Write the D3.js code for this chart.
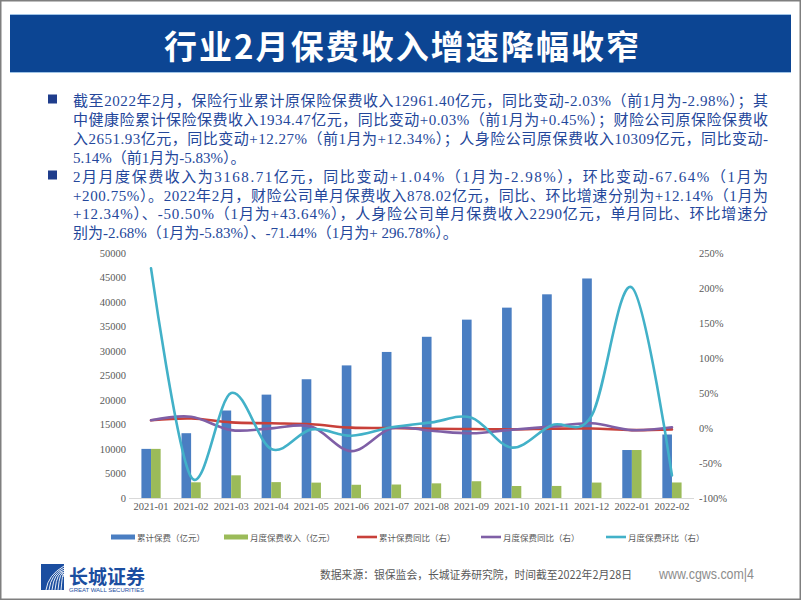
<!DOCTYPE html>
<html><head><meta charset="utf-8">
<script src="https://cdn.jsdelivr.net/npm/d3@7/dist/d3.min.js"></script>
<style>body{margin:0;background:#fff;}svg{display:block;}</style>
</head><body>
<svg id="c" width="802" height="602"></svg>
<script>
const categories = ['2021-01','2021-02','2021-03','2021-04','2021-05','2021-06','2021-07','2021-08','2021-09','2021-10','2021-11','2021-12','2022-01','2022-02'];
const cumPremium = [10024, 13223, 17856, 21096, 24235, 27061, 29806, 32900, 36400, 38850, 41568, 44800, 9792, 12961];
const monthlyPremium = [10024, 3200, 4630, 3240, 3140, 2700, 2750, 2990, 3420, 2450, 2460, 3150, 9792, 3169];
const cumYoY = [11, 13.5, 8, 6.7, 5.3, 0.5, 0, -1, -1.5, -2, -1, -0.8, -2.98, -2.03];
const monthlyYoY = [11, 16, -3, -0.5, 2, -33, -0.5, -4, -7.6, -2.5, 2, 6.7, -2.98, 1.04];
const monthlyMoM = [228, -70, 50, -30, -2, -11, 1, 8, 14.5, -28, 4, 18, 200.75, -67.64];
const leftTicks = [0,5000,10000,15000,20000,25000,30000,35000,40000,45000,50000];
const rightTicks = [-100,-50,0,50,100,150,200,250];
const seriesNames = ['累计保费（亿元）','月度保费收入（亿元）','累计保费同比（右）','月度保费同比（右）','月度保费环比（右）'];
const titleText = '行业2月保费收入增速降幅收窄';
const para1 = [
 '截至2022年2月，保险行业累计原保险保费收入12961.40亿元，同比变动-2.03%（前1月为-2.98%）；其',
 '中健康险累计保险保费收入1934.47亿元，同比变动+0.03%（前1月为+0.45%）；财险公司原保险保费收',
 '入2651.93亿元，同比变动+12.27%（前1月为+12.34%）；人身险公司原保费收入10309亿元，同比变动-',
 '5.14%（前1月为-5.83%）。'];
const para2 = [
 '2月月度保费收入为3168.71亿元，同比变动+1.04%（1月为-2.98%），环比变动-67.64%（1月为',
 '+200.75%）。2022年2月，财险公司单月保费收入878.02亿元，同比、环比增速分别为+12.14%（1月为',
 '+12.34%）、-50.50%（1月为+43.64%），人身险公司单月保费收入2290亿元，单月同比、环比增速分',
 '别为-2.68%（1月为-5.83%）、-71.44%（1月为+ 296.78%）。'];
const sourceText = '数据来源：银保监会，长城证券研究院，时间截至2022年2月28日';
const siteText = 'www.cgws.com|4';

const svg = d3.select('#c');
const serif = '"Liberation Serif","Times New Roman","Noto Sans CJK SC",serif';
const cjk = '"Noto Sans CJK SC","Liberation Serif",sans-serif';

// frame
svg.append('rect').attr('x',0.75).attr('y',0.75).attr('width',799.5).attr('height',598.5)
  .attr('fill','none').attr('stroke','#7f7f7f').attr('stroke-width',1.5);

// title bar
svg.append('rect').attr('x',10).attr('y',14).attr('width',781).attr('height',58).attr('fill','#0c4593');
svg.append('line').attr('x1',10).attr('x2',791).attr('y1',14.5).attr('y2',14.5).attr('stroke','#9fc3e6').attr('stroke-width',1);
svg.append('line').attr('x1',10).attr('x2',791).attr('y1',72.5).attr('y2',72.5).attr('stroke','#9fc3e6').attr('stroke-width',1);
svg.append('text').attr('x',164).attr('y',45).attr('dominant-baseline','central')
  .attr('textLength',475).attr('lengthAdjust','spacing')
  .style('font-family','"Noto Sans CJK SC","Liberation Serif",serif').style('font-weight','bold')
  .style('font-size','33px').attr('fill','#fff').text(titleText);

// paragraphs
const textColor = '#24479b';
const lineY1 = [100.5, 119.5, 138.5, 157.5];
const lineY2 = [176.5, 195.5, 214, 232.5];
function para(lines, ys){
  lines.forEach((t,i)=>{
    const el = svg.append('text').attr('x',73).attr('y',ys[i]).attr('dominant-baseline','central')
      .style('font-family',serif).style('font-size','15px').attr('fill',textColor).text(t);
    if(i < lines.length-1) el.attr('textLength',695).attr('lengthAdjust','spacing');
  });
}
para(para1, lineY1); para(para2, lineY2);
[99,175].forEach(cy=>{
  svg.append('rect').attr('x',48).attr('y',cy-4.5).attr('width',9).attr('height',9).attr('fill','#1f3d8c');
});

// chart
const x = d3.scaleBand().domain(categories).range([131,692]).paddingInner(0.52).paddingOuter(0.26);
const x1 = d3.scaleBand().domain(['cum','mon']).range([0, x.bandwidth()]);
const yL = d3.scaleLinear().domain([0,50000]).range([498,253]);
const yR = d3.scaleLinear().domain([-100,250]).range([498,253]);
const colors = {cum:'#4a7ec2', mon:'#9bbb59', cumYoY:'#c8403a', monYoY:'#7f5fa6', mom:'#42b1c8'};

// baseline
svg.append('line').attr('x1',129).attr('x2',694).attr('y1',498.5).attr('y2',498.5).attr('stroke','#d9d9d9');

// bars
const barData = categories.map((c,i)=>({c, cum:cumPremium[i], mon:monthlyPremium[i]}));
['cum','mon'].forEach(k=>{
  svg.append('g').selectAll('rect').data(barData).join('rect')
    .attr('x',d=>x(d.c)+x1(k)).attr('width',x1.bandwidth())
    .attr('y',d=>yL(d[k])).attr('height',d=>yL(0)-yL(d[k]))
    .attr('fill',colors[k]);
});

// lines
const lineGen = d3.line().x((d,i)=>x(categories[i])+x.bandwidth()/2).y(d=>yR(d)).curve(d3.curveCardinal.tension(0));
[[cumYoY,'cumYoY'],[monthlyYoY,'monYoY'],[monthlyMoM,'mom']].forEach(([arr,k])=>{
  svg.append('path').datum(arr).attr('d',lineGen).attr('fill','none').attr('stroke',colors[k])
    .attr('stroke-width',2.6).attr('stroke-linejoin','round').attr('stroke-linecap','round');
});

// axes
const axL = svg.append('g').attr('transform','translate(126,0)')
  .call(d3.axisLeft(yL).tickValues(leftTicks).tickSize(0).tickPadding(0).tickFormat(d3.format('d')));
const axR = svg.append('g').attr('transform','translate(699,0)')
  .call(d3.axisRight(yR).tickValues(rightTicks).tickSize(0).tickPadding(0).tickFormat(d=>d+'%'));
const axB = svg.append('g').attr('transform','translate(0,503)')
  .call(d3.axisBottom(x).tickSize(0).tickPadding(0));
[axL,axR,axB].forEach(a=>{
  a.select('.domain').remove();
  a.selectAll('text').style('font-family',serif).style('font-size','10.5px').attr('fill','#595959');
});
axB.selectAll('text').attr('dy','0.71em');

// legend
const lg = svg.append('g').style('font-family',cjk).style('font-size','8.5px');
const legendItems = [
  {name:seriesNames[0], k:'cum', type:'bar', x:111},
  {name:seriesNames[1], k:'mon', type:'bar', x:224},
  {name:seriesNames[2], k:'cumYoY', type:'line', x:357},
  {name:seriesNames[3], k:'monYoY', type:'line', x:481},
  {name:seriesNames[4], k:'mom', type:'line', x:606}
];
const ly = 537;
legendItems.forEach(it=>{
  if(it.type==='bar'){
    lg.append('rect').attr('x',it.x).attr('y',ly-2.5).attr('width',24).attr('height',5).attr('fill',colors[it.k]);
    lg.append('text').attr('x',it.x+26).attr('y',ly).attr('dominant-baseline','central').attr('fill','#595959').text(it.name);
  } else {
    lg.append('line').attr('x1',it.x).attr('x2',it.x+20).attr('y1',ly).attr('y2',ly).attr('stroke',colors[it.k]).attr('stroke-width',2.6);
    lg.append('text').attr('x',it.x+22).attr('y',ly).attr('dominant-baseline','central').attr('fill','#595959').text(it.name);
  }
});

// footer source
svg.append('text').attr('x',320).attr('y',574).attr('dominant-baseline','central')
  .attr('textLength',312).attr('lengthAdjust','spacingAndGlyphs')
  .style('font-family',cjk).style('font-size','11.5px').attr('fill','#595959').text(sourceText);
svg.append('text').attr('x',659).attr('y',574).attr('dominant-baseline','central')
  .attr('textLength',95).attr('lengthAdjust','spacingAndGlyphs')
  .style('font-family','"Liberation Sans",Arial,sans-serif').style('font-size','14px').attr('fill','#8c8c8c').text(siteText);

// logo
const logo = svg.append('g');
logo.append('rect').attr('x',41).attr('y',564).attr('width',23).attr('height',26).attr('fill','#1b4ea0');
for(let i=0;i<6;i++){
  logo.append('path').attr('d',`M${46+i*3},590 Q${48+i*3},${575-i*1.5} ${64},${566+i*2.2}`)
    .attr('fill','none').attr('stroke','#fff').attr('stroke-width',0.9);
}
logo.append('text').attr('x',69).attr('y',575).attr('dominant-baseline','central')
  .attr('textLength',76).attr('lengthAdjust','spacingAndGlyphs')
  .style('font-family',cjk).style('font-weight','bold').style('font-size','19px').attr('fill','#1b4ea0').text('长城证券');
logo.append('text').attr('x',69).attr('y',590).attr('dominant-baseline','central')
  .attr('textLength',75).attr('lengthAdjust','spacingAndGlyphs')
  .style('font-family','"Liberation Sans",Arial,sans-serif').style('font-size','6px').attr('fill','#1b4ea0').text('GREAT WALL SECURITIES');
</script>
</body></html>
